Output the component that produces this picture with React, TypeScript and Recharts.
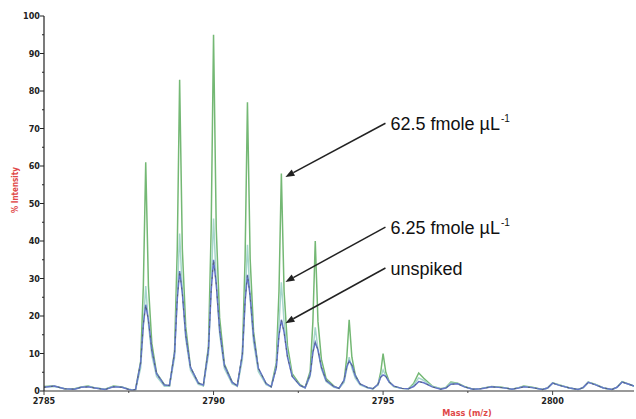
import React from 'react';
import { LineChart, Line, XAxis, YAxis, ReferenceLine } from 'recharts';

// m/z sample positions
const mass = [
  // baseline before the cluster
  2785, 2785.3, 2785.6, 2785.9, 2786.1, 2786.3, 2786.5, 2786.8, 2787.05, 2787.3, 2787.5, 2787.6,
  // isotope peaks 2788 - 2795
  2787.7, 2787.85, 2787.93, 2788, 2788.08, 2788.18, 2788.32, 2788.55,
  2788.7, 2788.85, 2788.93, 2789, 2789.08, 2789.18, 2789.32, 2789.55,
  2789.7, 2789.85, 2789.93, 2790, 2790.08, 2790.18, 2790.32, 2790.55,
  2790.7, 2790.85, 2790.93, 2791, 2791.08, 2791.18, 2791.32, 2791.55,
  2791.7, 2791.85, 2791.93, 2792, 2792.08, 2792.18, 2792.32, 2792.55,
  2792.7, 2792.85, 2792.93, 2793, 2793.08, 2793.18, 2793.32, 2793.55,
  2793.7, 2793.85, 2793.93, 2794, 2794.08, 2794.18, 2794.32, 2794.55,
  2794.7, 2794.85, 2794.93, 2795, 2795.08, 2795.18, 2795.32, 2795.55,
  // small bumps after the cluster
  2795.75, 2795.9, 2796.05, 2796.2, 2796.45, 2796.7,
  2796.85, 2797.0, 2797.2, 2797.4, 2797.65,
  2797.9, 2798.2, 2798.5, 2798.8,
  2799.0, 2799.15, 2799.4, 2799.7,
  2799.85, 2800.0, 2800.2, 2800.5, 2800.75,
  2800.9, 2801.05, 2801.25, 2801.5, 2801.75,
  2801.9, 2802.05, 2802.25, 2802.4,
];

// 62.5 fmole/uL
const spiked62 = [
  1.2, 1.3, 0.6, 0.6, 1.1, 1.3, 0.8, 0.5, 1.3, 1.1, 0.5, 0.3,
  0.4, 7.8, 28, 61, 28, 12.7, 4.8, 1.7,
  1.3, 10.5, 37.8, 83, 37.8, 17.1, 6.3, 2.2,
  1.4, 11.9, 43.2, 95, 43.2, 19.5, 7.2, 2.4,
  1.3, 9.7, 35.2, 77, 35.2, 15.9, 5.9, 2,
  1.1, 7.5, 26.6, 58, 26.6, 12.1, 4.6, 1.7,
  0.9, 5.3, 18.5, 40, 18.5, 8.5, 3.3, 1.3,
  0.7, 2.8, 9, 19, 9, 4.3, 1.8, 0.9,
  0.6, 1.7, 5, 10, 5, 2.5, 1.2, 0.7,
  0.6, 2.0, 4.8, 3.4, 1.3, 0.6,
  0.9, 2.4, 2.1, 1.2, 0.5,
  0.7, 1.2, 1.0, 0.5,
  0.9, 1.3, 1.0, 0.4,
  0.8, 2.2, 1.6, 0.8, 0.4,
  0.9, 2.4, 1.8, 0.8, 0.4,
  1.0, 2.5, 1.8, 1.3,
];

// 6.25 fmole/uL
const spiked6 = [
  1.1, 1.2, 0.7, 0.5, 1.0, 1.2, 0.9, 0.5, 1.2, 1.0, 0.5, 0.3,
  0.4, 6.1, 17.3, 28, 17.9, 9.5, 3.9, 1.3,
  1.3, 8.9, 25.7, 42, 26.5, 13.9, 5.5, 1.8,
  1.4, 9.7, 28.1, 46, 29, 15.2, 6, 1.9,
  1.3, 8.3, 23.9, 39, 24.7, 13, 5.2, 1.7,
  1.1, 6.3, 17.9, 29, 18.5, 9.8, 4, 1.4,
  0.8, 3.9, 10.7, 17, 11, 5.9, 2.5, 1,
  0.7, 2.3, 5.9, 9, 6.1, 3.4, 1.6, 0.8,
  0.6, 1.6, 3.9, 5.6, 4, 2.3, 1.2, 0.7,
  0.6, 1.6, 3.5, 2.8, 1.2, 0.6,
  0.8, 2.1, 2.0, 1.1, 0.5,
  0.7, 1.1, 0.9, 0.5,
  0.9, 1.2, 0.9, 0.4,
  0.8, 2.1, 1.6, 0.8, 0.4,
  0.9, 2.3, 1.8, 0.8, 0.4,
  1.0, 2.4, 1.8, 1.3,
];

// unspiked
const unspiked = [
  1.0, 1.3, 0.6, 0.5, 1.0, 1.1, 0.8, 0.4, 1.1, 1.0, 0.4, 0.2,
  0.4, 7.4, 17.8, 23, 18.9, 10.9, 4.6, 1.6,
  1.5, 10.1, 24.5, 32, 26.1, 14.9, 6.3, 2.1,
  1.6, 11, 26.8, 35, 28.5, 16.3, 6.8, 2.3,
  1.4, 9.8, 23.8, 31, 25.3, 14.5, 6.1, 2,
  1.1, 6.2, 14.8, 19, 15.7, 9.1, 3.9, 1.5,
  0.9, 4.4, 10.3, 13, 10.9, 6.4, 2.8, 1.2,
  0.7, 2.9, 6.5, 8, 6.9, 4.1, 1.9, 0.9,
  0.6, 1.8, 3.7, 4.3, 3.9, 2.4, 1.3, 0.7,
  0.6, 1.2, 2.5, 2.2, 1.1, 0.5,
  0.8, 1.8, 1.9, 1.1, 0.5,
  0.6, 1.1, 0.9, 0.5,
  0.8, 1.1, 0.9, 0.4,
  0.8, 2.1, 1.5, 0.8, 0.4,
  0.9, 2.3, 1.7, 0.8, 0.4,
  1.0, 2.4, 1.8, 1.3,
];

const xTicks = [2785, 2787.5, 2790, 2792.5, 2795, 2797.5, 2800];
const yTicks = [0, 5, 10, 15, 20, 25, 30, 35, 40, 45, 50, 55, 60, 65, 70, 75, 80, 85, 90, 95, 100];

// annotation label, text anchor point, arrow tip (data coords)
const notes = [
  { label: '62.5 fmole µL', sup: '-1', from: [2795.07, 71.4], to: [2792.12, 57.1] },
  { label: '6.25 fmole µL', sup: '-1', from: [2795.07, 43.7], to: [2792.12, 29.1] },
  { label: 'unspiked', sup: '', from: [2795.07, 32.8], to: [2792.12, 18.1] },
];

const data = mass.map((m, i) => ({
  mass: m,
  high: spiked62[i],
  mid: spiked6[i],
  low: unspiked[i],
}));

const tickFont = "'Liberation Sans Narrow', 'DejaVu Sans Condensed', 'Liberation Sans', sans-serif";

const XTick = (props: any) => {
  const { x, y, payload } = props;
  const major = payload.value % 5 === 0;
  return (
    <g>
      <line x1={x} x2={x} y1={y} y2={y + (major ? 4 : 2)} stroke="#444" />
      {major && (
        <text x={x} y={y + 13} textAnchor="middle" fontSize={9} fontWeight="bold" fontFamily={tickFont} fill="#222">
          {payload.value}
        </text>
      )}
    </g>
  );
};

const YTick = (props: any) => {
  const { x, y, payload } = props;
  const major = payload.value % 10 === 0;
  return (
    <g>
      <line x1={x - (major ? 4 : 2)} x2={x} y1={y} y2={y} stroke="#222" />
      {major && (
        <text x={x - 4} y={y + 3} textAnchor="end" fontSize={9} fontWeight="bold" fontFamily={tickFont} fill="#222">
          {payload.value}
        </text>
      )}
    </g>
  );
};

const arrowShape = (label: string, sup: string) => (p: any) => {
  const { x1, y1, x2, y2 } = p;
  const ang = Math.atan2(y2 - y1, x2 - x1);
  const len = 9;
  const w = 3.5;
  const bx = x2 - len * Math.cos(ang);
  const by = y2 - len * Math.sin(ang);
  const pts = `${x2},${y2} ${bx - w * Math.sin(ang)},${by + w * Math.cos(ang)} ${bx + w * Math.sin(ang)},${by - w * Math.cos(ang)}`;
  return (
    <g>
      <line x1={x1} y1={y1} x2={bx} y2={by} stroke="#222" strokeWidth={1.5} />
      <polygon points={pts} fill="#222" />
      <text x={x1 + 5} y={y1 + 7} fontSize={18} fontFamily="'Liberation Sans', Arial, sans-serif" fill="#111">
        {label}
        {sup && (
          <tspan fontSize={10} dx={1} dy={-8}>
            {sup}
          </tspan>
        )}
      </text>
    </g>
  );
};

const App: React.FC = () => {
  return (
    <div style={{ position: 'absolute', left: 0, top: 0, background: '#fff' }}>
      <LineChart width={636} height={419} data={data} margin={{ top: 16, right: 2, left: 0, bottom: 0 }}>
        <XAxis
          dataKey="mass"
          type="number"
          domain={[2785, 2802.4]}
          allowDataOverflow
          ticks={xTicks}
          interval={0}
          height={28}
          tickSize={0}
          tickMargin={0}
          tickLine={false}
          tick={<XTick />}
          axisLine={{ stroke: '#777', strokeWidth: 1.5 }}
          label={(lp: any) => (
            <text x={467} y={(lp.viewBox?.y ?? 391) + 25} textAnchor="middle" fontSize={9} fontWeight="bold" fontFamily={tickFont} fill="#e04848">
              Mass (m/z)
            </text>
          )}
        />
        <YAxis
          type="number"
          domain={[0, 100]}
          ticks={yTicks}
          interval={0}
          width={44}
          tickSize={0}
          tickMargin={0}
          tickLine={false}
          tick={<YTick />}
          axisLine={{ stroke: '#222', strokeWidth: 1.2 }}
          label={() => (
            <text x={15} y={190} transform="rotate(-90 15 190)" textAnchor="middle" dominantBaseline="central" fontSize={8} fontWeight="bold" fontFamily={tickFont} fill="#e04848">
              % Intensity
            </text>
          )}
        />
        <Line type="linear" dataKey="high" stroke="#74b874" strokeWidth={1.5} dot={false} isAnimationActive={false} />
        <Line type="linear" dataKey="mid" stroke="#a6d6cc" strokeWidth={1.5} dot={false} isAnimationActive={false} />
        <Line type="linear" dataKey="low" stroke="#6474c8" strokeWidth={1.5} dot={false} isAnimationActive={false} />
        <Line type="linear" dataKey="low" stroke="#4a5a50" strokeOpacity={0.7} strokeWidth={1} strokeDasharray="2 5" dot={false} isAnimationActive={false} />
        {notes.map((n, i) => (
          <ReferenceLine
            key={i}
            segment={[{ x: n.from[0], y: n.from[1] }, { x: n.to[0], y: n.to[1] }]}
            ifOverflow="visible"
            shape={arrowShape(n.label, n.sup)}
          />
        ))}
      </LineChart>
    </div>
  );
};

export default App;
